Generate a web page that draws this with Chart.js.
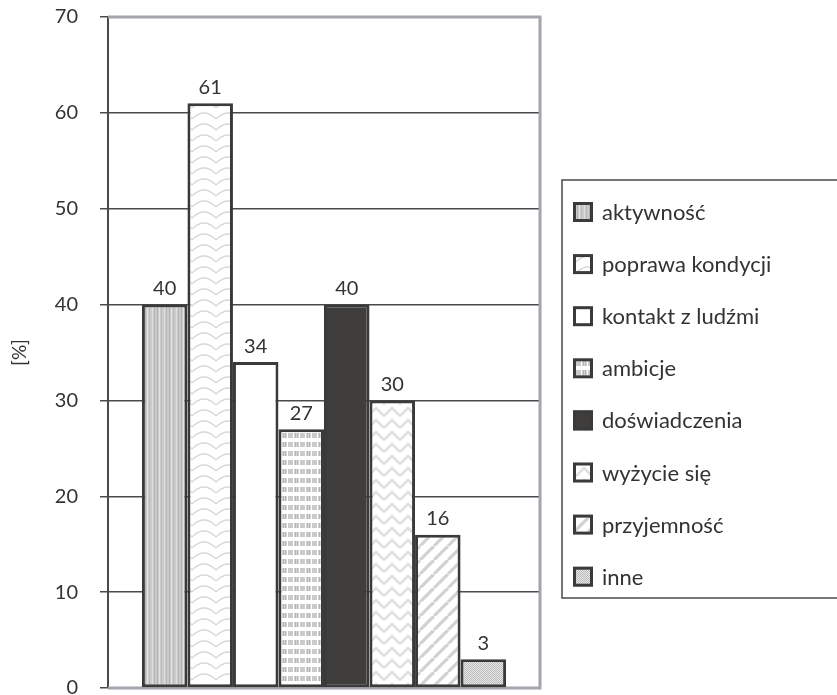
<!DOCTYPE html>
<html>
<head>
<meta charset="utf-8">
<script src="https://cdn.jsdelivr.net/npm/chart.js@4/dist/chart.umd.min.js"></script>
<style>
  html, body { margin: 0; padding: 0; background: #fff; overflow: hidden; }
  #wrap { width: 837px; height: 695px; overflow: hidden; }
</style>
</head>
<body>
<div id="wrap"><canvas id="c" width="837" height="720"></canvas></div>
<script>
// Motives (percent of respondents)
const seriesNames = ['aktywność', 'poprawa kondycji', 'kontakt z ludźmi', 'ambicje',
                     'doświadczenia', 'wyżycie się', 'przyjemność', 'inne'];
const seriesValues = [40, 61, 34, 27, 40, 30, 16, 3];
const yTicks = [0, 10, 20, 30, 40, 50, 60, 70];
const axisTitle = '[%]';

const FONT = 'Lato, "Open Sans", sans-serif';
const INK = '#3a3a3a';
const FRAME = '#a4a4ac';

function tile(w, h, draw) {
  const c = document.createElement('canvas');
  c.width = w; c.height = h;
  const g = c.getContext('2d');
  draw(g, w, h);
  return document.getElementById('c').getContext('2d').createPattern(c, 'repeat');
}

// Fill patterns, one per series
const fills = [
  // vertical hairline stripes
  tile(12, 4, (g, w, h) => {
    g.fillStyle = '#cbcbcb'; g.fillRect(0, 0, w, h);
    const cols = [['#b2b2b2', 1], ['#e4e4e4', 3], ['#bcbcbc', 5], ['#dedede', 8], ['#b6b6b6', 10]];
    cols.forEach(([col, x]) => { g.fillStyle = col; g.fillRect(x, 0, 1, h); });
  }),
  // stacked waves
  tile(24, 11, (g, w, h) => {
    g.fillStyle = '#fff'; g.fillRect(0, 0, w, h);
    g.strokeStyle = '#d8d8d8'; g.lineWidth = 1.3;
    g.beginPath(); g.moveTo(0, 9); g.quadraticCurveTo(w / 2, -3, w, 9); g.stroke();
  }),
  // plain
  '#ffffff',
  // small blocks
  tile(12, 9, (g, w, h) => {
    g.fillStyle = '#ffffff'; g.fillRect(0, 0, w, h);
    g.fillStyle = '#cacaca'; g.fillRect(0, 1, 5, 5);
    g.fillStyle = '#d6d6d6'; g.fillRect(6, 1, 5, 5);
    g.fillStyle = '#b4b4b4'; g.fillRect(7, 1, 1, 5); g.fillRect(9, 1, 1, 5);
  }),
  // solid dark
  '#403e3d',
  // herringbone zigzag
  tile(16, 12, (g, w, h) => {
    g.fillStyle = '#fff'; g.fillRect(0, 0, w, h);
    g.strokeStyle = '#e0e0e0'; g.lineWidth = 2.6;
    for (let k = -1; k <= 1; k++) {
      g.beginPath(); g.moveTo(0, 8 + k * 12); g.lineTo(8, 0 + k * 12); g.lineTo(16, 8 + k * 12); g.stroke();
    }
  }),
  // diagonal stripes
  tile(14, 14, (g, w, h) => {
    g.fillStyle = '#fff'; g.fillRect(0, 0, w, h);
    g.strokeStyle = '#d2d2d2'; g.lineWidth = 3.2;
    for (let k = -1; k <= 1; k++) {
      g.beginPath(); g.moveTo(k * 14, 14); g.lineTo(k * 14 + 14, 0); g.stroke();
    }
  }),
  // fine checker
  tile(2, 2, (g) => {
    g.fillStyle = '#e6e6e6'; g.fillRect(0, 0, 2, 2);
    g.fillStyle = '#bcbcbc'; g.fillRect(0, 0, 1, 1); g.fillRect(1, 1, 1, 1);
  })
];

const datasets = seriesNames.map((name, i) => ({
  label: name,
  data: [seriesValues[i]],
  backgroundColor: fills[i],
  borderColor: INK,
  borderWidth: 3,
  borderSkipped: false,
  categoryPercentage: 0.843,
  barPercentage: 1
}));

// Grey frame on top, right and bottom of the plot
const framePlugin = {
  id: 'frame',
  beforeDatasetsDraw(chart) {
    const { ctx, chartArea: a } = chart;
    ctx.save();
    ctx.strokeStyle = FRAME; ctx.lineWidth = 3;
    ctx.beginPath();
    ctx.moveTo(a.left, a.top); ctx.lineTo(a.right, a.top);
    ctx.lineTo(a.right, a.bottom); ctx.lineTo(a.left, a.bottom);
    ctx.stroke();
    ctx.restore();
  }
};

// Value above each bar
const valuePlugin = {
  id: 'values',
  afterDatasetsDraw(chart) {
    const { ctx } = chart;
    ctx.save();
    ctx.font = '20px ' + FONT;
    ctx.fillStyle = '#333';
    ctx.textAlign = 'center';
    ctx.textBaseline = 'bottom';
    chart.data.datasets.forEach((ds, i) => {
      chart.getDatasetMeta(i).data.forEach((bar, j) => {
        ctx.fillText(String(ds.data[j]), bar.x, bar.y - 6);
      });
    });
    ctx.restore();
  }
};

// Boxed legend to the right of the plot
const legendPlugin = {
  id: 'boxLegend',
  afterDraw(chart) {
    const { ctx } = chart;
    const bx = 562, by = 180, bw = 300, bh = 418;
    ctx.save();
    ctx.strokeStyle = '#555'; ctx.lineWidth = 1.6;
    ctx.strokeRect(bx, by, bw, bh);
    ctx.font = '22px ' + FONT;
    ctx.textBaseline = 'middle';
    const step = 52.1;
    chart.data.datasets.forEach((ds, i) => {
      const cy = 212 + i * step;
      ctx.fillStyle = ds.backgroundColor;
      ctx.fillRect(573, cy - 10, 20, 20);
      ctx.strokeStyle = INK; ctx.lineWidth = 3;
      ctx.strokeRect(574.5, cy - 8.5, 17, 17);
      ctx.fillStyle = '#333';
      ctx.fillText(ds.label, 602, cy + 1);
    });
    ctx.restore();
  }
};

new Chart(document.getElementById('c'), {
  type: 'bar',
  data: { labels: [''], datasets },
  options: {
    responsive: false,
    animation: false,
    layout: { padding: { top: 17, right: 297, bottom: 32, left: 0 } },
    plugins: { legend: { display: false }, tooltip: { enabled: false } },
    scales: {
      x: {
        ticks: { display: false },
        grid: { display: false },
        border: { display: false },
        afterFit(s) { s.height = 0; s.paddingLeft = 0; s.paddingRight = 0; }
      },
      y: {
        min: 0, max: 70,
        afterBuildTicks(s) { s.ticks = yTicks.map(v => ({ value: v })); },
        afterFit(s) { s.width = 108; s.paddingTop = 0; s.paddingBottom = 0; },
        ticks: {
          padding: 22,
          color: '#333',
          font: { family: FONT, size: 20 }
        },
        grid: {
          color: (c) => (c.tick && (c.tick.value === 0 || c.tick.value === 70)) ? 'rgba(0,0,0,0)' : '#4a4a4a',
          lineWidth: 1.5,
          tickColor: '#4a4a4a',
          tickLength: 8
        },
        border: { color: '#4a4a4a', width: 2 },
        title: {
          display: true,
          text: axisTitle,
          color: '#333',
          font: { family: FONT, size: 19 },
          padding: { top: 8, bottom: 0 }
        }
      }
    }
  },
  plugins: [framePlugin, valuePlugin, legendPlugin]
});
</script>
</body>
</html>
